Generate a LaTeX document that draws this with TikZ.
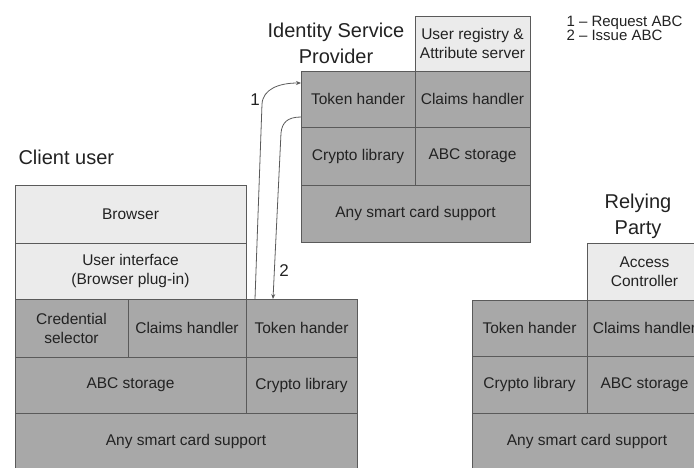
\documentclass[tikz,border=0pt]{standalone}
\usepackage{fontspec}
\setmainfont{Liberation Sans}
\usetikzlibrary{arrows.meta,positioning}

\definecolor{lightcell}{HTML}{EBEBEB}
\definecolor{darkcell}{HTML}{A8A8A8}
\definecolor{cellline}{HTML}{5A5A5A}
\definecolor{inkgray}{HTML}{222222}

\begin{document}
\begin{tikzpicture}[
  x=1pt,y=-1pt,
  font=\fontsize{15.5}{19}\selectfont,text=inkgray,
  cell/.style={draw=cellline,fill=darkcell,anchor=north west,align=center,
    inner sep=0pt,outer sep=0pt,line width=0.9pt},
  uppercell/.style={cell,fill=lightcell},
  sz/.style args={#1/#2}{minimum width=#1pt,minimum height=#2pt},
  title/.style={font=\fontsize{20}{26}\selectfont,align=center},
  arr/.style={-{Stealth[length=5pt,width=4pt]},draw=cellline,line width=0.8pt}
]
\useasboundingbox (0,0) rectangle (694,468);

% identity service provider
\node[title] (idptitle) at (336,43) {Identity Service\\Provider};
\node[uppercell,sz=115/55] (idreg) at (415,16) {User registry \&\\Attribute server};
\node[cell,sz=114/56] (idtok) at (301,71) {Token hander};
\node[cell,sz=115/56] (idclaims) at (idtok.north east) {Claims handler};
\node[cell,sz=114/58] (idcrypto) at (idtok.south west) {Crypto library};
\node[cell,sz=115/58] (idabc) at (idcrypto.north east) {ABC storage};
\node[cell,sz=229/57] (idany) at (idcrypto.south west) {Any smart card support};

% client side
\node[title,anchor=west] (cltitle) at (15,157) {Client user};
\node[uppercell,sz=231/58] (browser) at (15,185) {Browser};
\node[uppercell,sz=231/56] (ui) at (browser.south west) {User interface\\(Browser plug-in)};
\node[cell,sz=113/58] (credsel) at (ui.south west) {Credential\\selector};
\node[cell,sz=118/58] (clclaims) at (credsel.north east) {Claims handler};
\node[cell,sz=111/58] (cltok) at (clclaims.north east) {Token hander};
\node[cell,sz=231/56] (clabc) at (credsel.south west) {ABC storage};
\node[cell,sz=111/56] (clcrypto) at (clabc.north east) {Crypto library};
\node[cell,sz=342/57] (clany) at (clabc.south west) {Any smart card support};

% relying party
\node[title] (rptitle) at (638,216) {Relying\\Party};
\node[uppercell,sz=115/57] (access) at (587,243) {Access\\Controller};
\node[cell,sz=115/56] (rptok) at (472,300) {Token hander};
\node[cell,sz=115/56] (rpclaims) at (rptok.north east) {Claims handler};
\node[cell,sz=115/57] (rpcrypto) at (rptok.south west) {Crypto library};
\node[cell,sz=115/57] (rpabc) at (rpcrypto.north east) {ABC storage};
\node[cell,sz=230/57] (rpany) at (rpcrypto.south west) {Any smart card support};

% legend
\node[anchor=north west,align=left,font=\fontsize{15}{13.5}\selectfont] (legend) at (563,12)
  {1 -- Request ABC\\2 -- Issue ABC};

% request / issue
\draw[arr] ([xshift=9pt]cltok.north west) -- ++(7,-195)
  .. controls +(1,-15) and +(-22,0) .. ([yshift=-12pt]idtok.north west);
\draw[arr] ([yshift=-46pt]idtok.north west) .. controls +(-14,0) and +(1,-10) .. ++(-20,16)
  -- ([xshift=27pt]cltok.north west);
\node[font=\fontsize{17}{20}\selectfont] (lab1) at (255,100) {1};
\node[font=\fontsize{17}{20}\selectfont] (lab2) at (284,271) {2};
\end{tikzpicture}
\end{document}
